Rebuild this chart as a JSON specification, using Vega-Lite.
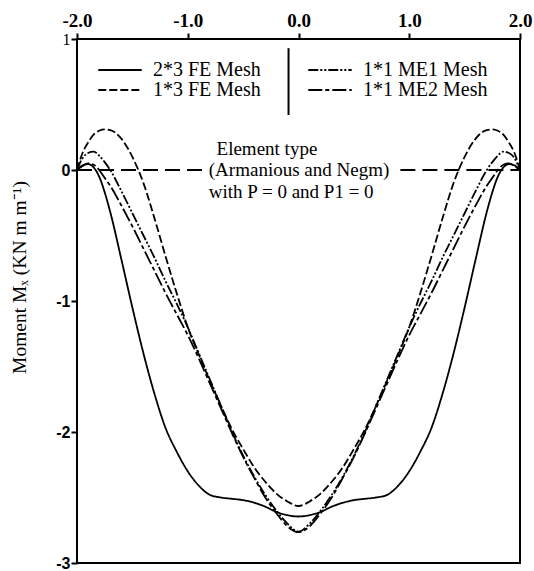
{
  "$schema": "https://vega.github.io/schema/vega-lite/v6.json",
  "width": 443,
  "height": 524,
  "autosize": "none",
  "padding": {"left": 77, "top": 39, "right": 14, "bottom": 8},
  "background": "white",
  "config": {"view": {"stroke": "black", "strokeWidth": 2}, "font": "Liberation Serif"},
  "datasets": {
    "curves": [
      {"x": -2.0, "C": 0, "A": 0, "B": 0, "D": 0},
      {"x": -1.95, "C": 0.035, "A": 0.13, "B": 0.09, "D": 0.03},
      {"x": -1.9, "C": 0.045, "A": 0.21, "B": 0.13, "D": 0.05},
      {"x": -1.85, "C": 0.02, "A": 0.27, "B": 0.14, "D": 0.04},
      {"x": -1.8, "C": -0.05, "A": 0.3, "B": 0.11, "D": 0.0},
      {"x": -1.75, "C": -0.17, "A": 0.31, "B": 0.06, "D": -0.06},
      {"x": -1.7, "C": -0.32, "A": 0.305, "B": 0.0, "D": -0.12},
      {"x": -1.6, "C": -0.68, "A": 0.24, "B": -0.16, "D": -0.27},
      {"x": -1.5, "C": -1.05, "A": 0.1, "B": -0.33, "D": -0.43},
      {"x": -1.4, "C": -1.4, "A": -0.1, "B": -0.5, "D": -0.6},
      {"x": -1.3, "C": -1.71, "A": -0.37, "B": -0.67, "D": -0.77},
      {"x": -1.2, "C": -1.97, "A": -0.66, "B": -0.85, "D": -0.94},
      {"x": -1.1, "C": -2.15, "A": -0.94, "B": -1.02, "D": -1.1},
      {"x": -1.0, "C": -2.3, "A": -1.2, "B": -1.2, "D": -1.26},
      {"x": -0.9, "C": -2.41, "A": -1.41, "B": -1.4, "D": -1.44},
      {"x": -0.8, "C": -2.48, "A": -1.61, "B": -1.6, "D": -1.63},
      {"x": -0.7, "C": -2.5, "A": -1.8, "B": -1.8, "D": -1.82},
      {"x": -0.6, "C": -2.51, "A": -1.98, "B": -2.0, "D": -2.01},
      {"x": -0.5, "C": -2.52, "A": -2.13, "B": -2.18, "D": -2.19},
      {"x": -0.4, "C": -2.54, "A": -2.27, "B": -2.34, "D": -2.35},
      {"x": -0.3, "C": -2.57, "A": -2.38, "B": -2.48, "D": -2.5},
      {"x": -0.2, "C": -2.61, "A": -2.47, "B": -2.6, "D": -2.62},
      {"x": -0.1, "C": -2.635, "A": -2.53, "B": -2.7, "D": -2.72},
      {"x": 0.0, "C": -2.645, "A": -2.565, "B": -2.76, "D": -2.765},
      {"x": 0.1, "C": -2.635, "A": -2.53, "B": -2.7, "D": -2.72},
      {"x": 0.2, "C": -2.61, "A": -2.47, "B": -2.6, "D": -2.62},
      {"x": 0.3, "C": -2.57, "A": -2.38, "B": -2.48, "D": -2.5},
      {"x": 0.4, "C": -2.54, "A": -2.27, "B": -2.34, "D": -2.35},
      {"x": 0.5, "C": -2.52, "A": -2.13, "B": -2.18, "D": -2.19},
      {"x": 0.6, "C": -2.51, "A": -1.98, "B": -2.0, "D": -2.01},
      {"x": 0.7, "C": -2.5, "A": -1.8, "B": -1.8, "D": -1.82},
      {"x": 0.8, "C": -2.48, "A": -1.61, "B": -1.6, "D": -1.63},
      {"x": 0.9, "C": -2.41, "A": -1.41, "B": -1.4, "D": -1.44},
      {"x": 1.0, "C": -2.3, "A": -1.2, "B": -1.2, "D": -1.26},
      {"x": 1.1, "C": -2.15, "A": -0.94, "B": -1.02, "D": -1.1},
      {"x": 1.2, "C": -1.97, "A": -0.66, "B": -0.85, "D": -0.94},
      {"x": 1.3, "C": -1.71, "A": -0.37, "B": -0.67, "D": -0.77},
      {"x": 1.4, "C": -1.4, "A": -0.1, "B": -0.5, "D": -0.6},
      {"x": 1.5, "C": -1.05, "A": 0.1, "B": -0.33, "D": -0.43},
      {"x": 1.6, "C": -0.68, "A": 0.24, "B": -0.16, "D": -0.27},
      {"x": 1.7, "C": -0.32, "A": 0.305, "B": 0.0, "D": -0.12},
      {"x": 1.75, "C": -0.17, "A": 0.31, "B": 0.06, "D": -0.06},
      {"x": 1.8, "C": -0.05, "A": 0.3, "B": 0.11, "D": 0.0},
      {"x": 1.85, "C": 0.02, "A": 0.27, "B": 0.14, "D": 0.04},
      {"x": 1.9, "C": 0.045, "A": 0.21, "B": 0.13, "D": 0.05},
      {"x": 1.95, "C": 0.035, "A": 0.13, "B": 0.09, "D": 0.03},
      {"x": 2.0, "C": 0, "A": 0, "B": 0, "D": 0}
    ],
    "zero": [
      {"x": -2.0, "x2": -0.84, "y": 0},
      {"x": 0.92, "x2": 2.0, "y": 0}
    ],
    "divider": [
      {"x": -0.09, "y": 0.93, "y2": 0.42}
    ],
    "notes": [
      {"t": "Element type", "x": -0.74, "y": 0.16},
      {"t": "(Armanious and Negm)", "x": -0.81, "y": 0},
      {"t": "with P = 0 and P1 = 0", "x": -0.81, "y": -0.168}
    ]
  },
  "layer": [
    {
      "data": {"name": "curves"},
      "transform": [{"fold": ["C", "A", "B", "D"], "as": ["s", "v"]}],
      "mark": {"type": "line", "color": "black", "strokeWidth": 1.8, "interpolate": "monotone"},
      "encoding": {
        "x": {
          "field": "x", "type": "quantitative",
          "scale": {"domain": [-2, 2], "nice": false, "zero": false},
          "axis": {
            "orient": "top", "values": [-2, -1, 0, 1, 2], "title": null,
            "labelExpr": "datum.value < 0 ? '-' + format(-datum.value, '.1f') : format(datum.value, '.1f')",
            "domain": false, "grid": false, "ticks": true, "tickSize": 6, "tickWidth": 2, "tickColor": "black",
            "labelFont": "Liberation Serif", "labelFontWeight": "bold", "labelFontSize": 19,
            "labelColor": "black", "labelPadding": 3, "labelFlush": false
          }
        },
        "y": {
          "field": "v", "type": "quantitative",
          "scale": {"domain": [-3, 1], "nice": false, "zero": false},
          "axis": {
            "values": [1, 0, -1, -2, -3],
            "labelExpr": "datum.value < 0 ? '-' + format(-datum.value, 'd') : format(datum.value, 'd')",
            "title": "Moment Mₓ (KN m m⁻¹)",
            "titleFont": "Liberation Serif", "titleFontSize": 19.5, "titleFontWeight": "normal", "titleColor": "black",
            "titleX": -48, "titleY": 238, "titleBaseline": "bottom", "titleAlign": "center",
            "domain": false, "grid": false, "tickSize": 6, "tickWidth": 2, "tickColor": "black",
            "labelFont": {"condition": {"test": "datum.value == 1", "value": "Liberation Serif"}, "value": "Liberation Sans"},
            "labelFontWeight": {"condition": {"test": "datum.value == 1", "value": "normal"}, "value": "bold"},
            "labelFontSize": 16, "labelColor": "black", "labelPadding": 1
          }
        },
        "strokeDash": {
          "field": "s", "type": "nominal",
          "scale": {"domain": ["C", "A", "B", "D"], "range": [[1, 0], [8, 3], [10, 2, 2, 2, 2, 2], [14, 3, 4, 3]]},
          "legend": {
            "orient": "none", "legendX": 33, "legendY": 21, "columns": 2, "title": null,
            "symbolType": "M-3.1,0H3.1", "symbolSize": 196, "symbolStrokeWidth": 2,
            "symbolStrokeColor": "black", "symbolFillColor": "transparent",
            "labelFont": "Liberation Serif", "labelFontSize": 20, "labelColor": "black",
            "labelOffset": 23, "columnPadding": 43, "rowPadding": 0,
            "labelExpr": "{'C': '2*3 FE Mesh', 'A': '1*3 FE Mesh', 'B': '1*1 ME1 Mesh', 'D': '1*1 ME2 Mesh'}[datum.label]"
          }
        }
      }
    },
    {
      "data": {"name": "zero"},
      "mark": {"type": "rule", "color": "black", "strokeWidth": 2, "strokeDash": [15, 7]},
      "encoding": {
        "x": {"field": "x", "type": "quantitative"},
        "x2": {"field": "x2"},
        "y": {"field": "y", "type": "quantitative"}
      }
    },
    {
      "data": {"name": "divider"},
      "mark": {"type": "rule", "color": "black", "strokeWidth": 2},
      "encoding": {
        "x": {"field": "x", "type": "quantitative"},
        "y": {"field": "y", "type": "quantitative"},
        "y2": {"field": "y2"}
      }
    },
    {
      "data": {"name": "notes"},
      "mark": {"type": "text", "align": "left", "baseline": "middle", "font": "Liberation Serif", "fontSize": 19, "color": "black"},
      "encoding": {
        "x": {"field": "x", "type": "quantitative"},
        "y": {"field": "y", "type": "quantitative"},
        "text": {"field": "t"}
      }
    }
  ]
}
